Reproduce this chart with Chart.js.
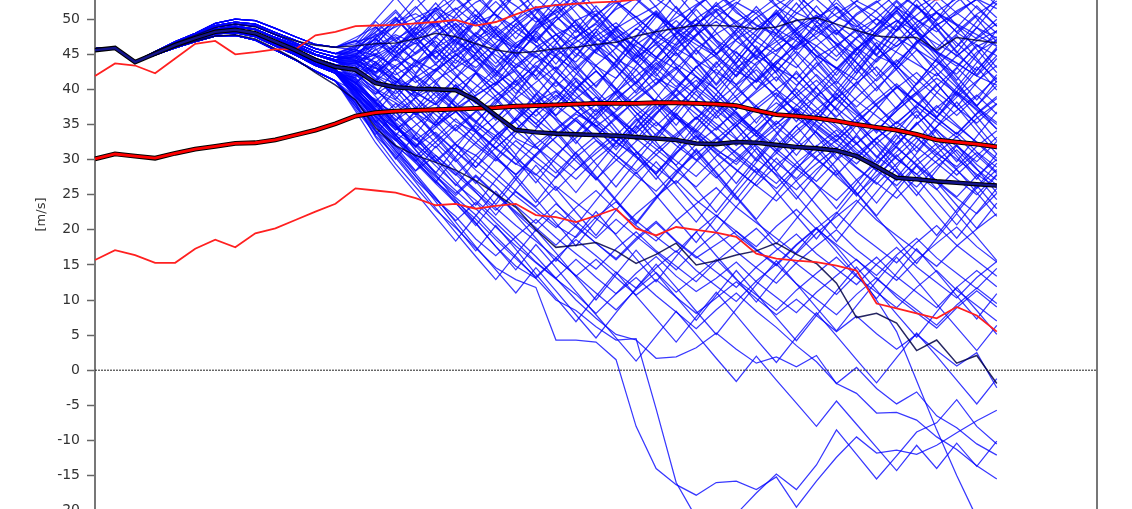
<!DOCTYPE html>
<html>
<head>
<meta charset="utf-8">
<script src="https://cdn.jsdelivr.net/npm/chart.js@4/dist/chart.umd.min.js"></script>
<style>
  html, body { margin: 0; padding: 0; background: #fff; overflow: hidden; }
  #wrap { position: absolute; left: 0; top: -40px; width: 1132px; height: 620px; }
</style>
</head>
<body>
<div id="wrap"><canvas id="chart"></canvas></div>
<script>
// forecast steps (x categories)
const steps = [0, 1, 2, 3, 4, 5, 6, 7, 8, 9, 10, 11, 12, 13, 14, 15, 16, 17, 18, 19, 20,
  21, 22, 23, 24, 25, 26, 27, 28, 29, 30, 31, 32, 33, 34, 35, 36, 37, 38, 39, 40,
  41, 42, 43, 44, 45, 46, 47, 48, 49, 50];

// common initial state of all members
const start = [45.8, 45.9, 43.9];

// ensemble members, values from step 3 on
const members = [
  [45.4,46.8,48.0,49.4,50.0,49.8,48.7,47.5,46.4,46.0, 46.8,47.5,48.9,50.2,51.6,50.1,52.4,53.8,51.9,49.6, 51.2,53.5,54.8,52.6,50.3,51.9,54.2,52.7,50.1,48.6, 50.9,53.1,55.0,52.8,50.4,48.9,51.3,53.6,51.8,49.2, 50.7,52.9,51.5],
  [45.3,46.7,47.9,49.1,49.6,49.3,48.1,47.0,45.8,45.1, 45.4,46.2,47.8,46.5,48.3,49.9,47.6,45.8,48.9,51.3, 52.1,49.4,47.2,46.1,48.7,46.9,44.8,47.6,50.3,52.4, 50.8,47.9,45.6,47.4,49.9,52.6,51.1,48.3,50.6,52.9, 54.0,51.6,49.0],
  [45.2,46.5,47.6,48.6,49.0,48.6,47.4,46.3,45.0,44.2, 44.1,44.9,46.4,48.1,45.9,43.7,46.8,48.6,46.2,44.5, 47.1,49.8,51.2,48.7,46.9,44.6,47.8,50.1,52.0,49.5, 46.8,44.9,43.1,46.2,48.5,46.0,43.9,46.7,49.6,51.0, 48.1,46.3,44.8],
  [45.2,46.4,47.5,48.5,48.9,48.5,47.3,46.0,44.9,44.0, 43.6,45.1,42.9,45.3,47.5,45.0,43.1,45.6,48.2,50.3, 47.9,45.7,48.8,51.4,53.0,50.6,48.7,46.9,45.1,48.0, 50.2,52.1,53.7,50.9,49.2,47.1,44.8,43.5,46.8,49.1, 51.2,52.8,53.9],
  [45.3,46.7,47.9,49.1,49.6,49.3,48.1,47.0,45.8,45.1, 46.1,47.7,49.6,50.8,48.9,51.4,53.2,50.6,48.8,46.7, 49.8,52.0,53.6,55.1,52.8,50.4,48.6,51.9,53.8,51.6, 49.2,47.9,50.8,53.1,54.6,52.0,50.1,48.4,51.6,53.3, 50.9,48.8,47.3],
  [45.1,46.3,47.3,48.3,48.6,48.1,46.9,45.7,44.4,43.5, 42.9,41.2,43.4,45.0,46.9,44.2,42.5,40.6,43.5,45.4, 47.8,49.2,46.4,44.3,42.8,45.9,48.1,49.9,47.0,45.2, 43.4,46.3,48.4,50.2,51.8,49.1,47.0,45.3,43.6,41.9, 44.8,46.9,48.3],
  [45.2,46.5,47.6,48.6,49.0,48.6,47.4,46.3,45.0,44.2, 45.1,46.6,44.8,43.2,45.9,47.6,49.5,50.7,48.1,46.3, 44.6,42.8,45.6,47.3,49.2,51.0,48.2,46.4,44.7,42.6, 41.1,44.0,46.2,47.9,49.8,51.9,49.2,51.6,53.7,51.0, 49.3,47.8,46.1],
  [45.4,46.8,48.0,49.4,50.0,49.8,48.7,47.5,46.4,46.0, 47.4,48.9,46.8,49.6,51.2,53.1,50.5,48.6,51.4,53.5, 55.0,52.3,50.4,53.2,55.3,52.9,51.0,49.1,52.0,54.1, 55.6,52.8,50.9,49.6,47.8,50.6,52.4,54.3,51.7,49.8, 52.5,54.4,55.5],
  [45.2,46.6,47.8,48.9,49.3,49.0,47.8,46.6,45.4,44.6, 44.2,42.3,44.9,46.6,43.8,45.5,48.1,46.0,43.6,41.9, 44.8,46.7,48.6,45.9,43.8,41.6,40.1,43.2,45.0,47.1, 48.9,50.8,47.9,46.2,44.1,47.3,49.0,51.2,48.2,46.5, 44.9,42.7,45.8],
  [45.0,46.1,47.0,47.9,48.1,47.5,46.2,44.9,43.4,42.3, 41.7,43.5,41.0,43.6,45.2,47.1,44.5,42.7,40.6,43.8, 45.6,47.5,49.3,46.8,44.9,42.8,45.9,47.8,49.7,46.9, 44.8,43.1,41.5,44.6,46.3,48.4,50.1,47.4,45.7,43.9, 42.2,45.3,47.0],
  [45.1,46.3,47.3,48.3,48.6,48.1,46.9,45.7,44.4,43.5, 43.7,45.6,47.2,48.8,46.1,48.9,50.6,47.8,46.0,49.1, 50.9,52.7,49.9,47.6,46.2,44.3,47.4,49.3,51.2,52.9, 54.5,51.8,50.0,48.3,46.6,44.9,48.0,49.8,47.1,45.4, 43.8,41.9,40.6],
  [45.3,46.7,47.9,49.1,49.6,49.3,48.1,47.0,45.8,45.1, 45.7,43.8,46.3,47.9,49.6,46.8,45.1,47.9,49.9,51.8, 48.9,47.1,45.2,43.5,46.4,48.3,50.2,52.1,53.8,50.9, 49.1,47.6,45.8,48.9,50.8,52.6,54.4,51.6,49.9,48.2, 51.0,52.8,50.2],
  [45.0,46.2,47.1,48.0,48.2,47.6,46.4,45.1,43.6,42.6, 41.9,43.8,41.6,40.2,42.9,44.8,46.5,43.7,46.6,48.3, 45.6,43.9,46.9,48.7,50.4,47.6,45.8,44.2,42.4,40.7, 43.8,45.6,47.5,44.8,43.1,41.3,44.4,46.2,48.1,45.3, 43.7,41.9,44.8],
  [45.2,46.5,47.6,48.6,49.0,48.6,47.4,46.3,45.0,44.2, 44.4,46.0,47.5,45.1,47.6,49.4,46.7,44.9,43.1,46.0, 47.8,45.1,43.3,41.6,44.6,46.4,43.6,41.8,40.1,43.1, 44.9,46.8,48.7,50.6,47.9,50.8,52.6,49.9,48.2,51.1, 52.9,54.6,52.0],
  [45.2,46.6,47.8,48.9,49.3,49.0,47.8,46.6,45.4,44.6, 45.9,47.1,45.3,47.8,49.9,51.6,49.3,47.2,45.9,48.6, 50.3,48.1,50.7,52.6,50.2,48.0,46.3,49.2,51.5,49.7, 47.6,45.4,47.9,50.1,52.3,49.8,47.9,46.1,48.7,50.9, 49.1,47.2,49.4],
  [45.2,46.4,47.5,48.5,48.9,48.5,47.3,46.0,44.9,44.0, 43.0,44.5,46.2,44.1,42.6,44.9,47.3,49.0,46.5,44.7, 42.9,45.7,47.6,49.5,46.8,44.6,42.9,45.8,47.9,49.6, 51.3,48.6,46.9,44.8,43.0,45.9,47.7,49.8,47.0,45.2, 43.3,46.1,47.5],
  [45.1,46.3,47.3,48.3,48.6,48.1,46.9,45.7,44.4,43.5, 41.6,39.7,38.1,36.4,38.0,35.4,33.9,36.2,33.0,31.6, 34.2,36.5,34.9,32.4,30.7,33.7,36.0,34.0,31.3,29.7, 32.6,35.1,37.3,35.0,32.8,30.3,33.1,35.4,33.1,30.8, 29.0,31.9,34.1],
  [45.0,46.1,47.0,47.9,48.1,47.5,46.2,44.9,43.4,42.3, 40.5,38.1,36.7,38.8,40.4,37.5,35.2,33.4,35.5,38.2, 39.8,37.0,34.7,36.9,39.2,41.5,38.8,36.5,34.2,37.2, 39.6,41.8,38.9,36.7,34.5,32.2,35.2,37.5,39.6,36.8, 34.7,32.5,30.2],
  [45.2,46.4,47.5,48.5,48.9,48.5,47.3,46.0,44.9,44.0, 43.3,41.9,40.0,41.9,39.1,36.9,39.2,41.0,38.0,35.8, 33.5,35.9,37.8,39.7,36.7,34.4,32.0,29.9,32.9,35.3, 37.6,34.7,32.3,30.0,27.8,30.8,33.1,30.2,27.9,25.7, 28.7,31.0,28.2],
  [44.9,45.9,46.8,47.6,47.7,47.0,45.6,44.2,42.6,41.2, 38.9,36.5,34.6,32.8,34.9,36.8,33.9,31.5,29.3,32.2, 34.4,36.7,38.9,36.0,33.7,31.5,29.2,32.2,34.5,36.8, 33.8,31.5,29.1,26.9,29.9,32.3,34.6,31.7,29.3,27.0, 24.7,27.7,30.0],
  [45.0,46.2,47.1,48.0,48.2,47.6,46.4,45.1,43.6,42.6, 42.1,40.1,38.5,36.6,34.9,37.3,39.1,40.9,42.7,39.9, 37.7,35.5,33.3,36.1,38.4,40.7,42.9,40.0,37.8,35.6, 33.4,31.2,34.1,36.4,38.7,40.9,43.2,40.4,38.2,36.0, 38.9,41.2,43.4],
  [45.2,46.5,47.6,48.6,49.0,48.6,47.4,46.3,45.0,44.2, 43.9,42.0,40.8,39.0,41.3,43.1,44.9,42.2,40.0,37.9, 35.8,33.7,36.5,38.7,40.9,38.1,35.9,33.7,31.5,29.3, 32.2,34.5,36.8,39.0,41.2,38.4,36.2,34.0,31.8,34.7, 37.0,39.2,36.5],
  [45.1,46.2,47.2,48.1,48.3,47.8,46.5,45.3,43.9,42.8, 40.8,37.9,35.6,37.5,34.8,32.1,30.6,33.4,35.9,33.2, 30.9,28.5,31.4,33.8,31.2,28.9,26.6,29.7,32.3,34.9, 32.0,29.6,27.3,30.4,32.8,35.1,32.4,30.1,27.9,30.8, 33.3,30.6,28.0],
  [45.2,46.6,47.8,48.9,49.3,49.0,47.8,46.6,45.4,44.6, 44.1,43.0,41.2,39.5,37.8,40.2,42.4,39.8,37.5,35.1, 37.9,40.3,42.6,40.1,37.7,35.4,33.0,35.9,38.2,40.6, 42.8,40.0,37.8,35.5,33.2,36.1,38.5,40.8,38.1,35.9, 33.6,36.5,38.7],
  [45.0,46.1,47.0,47.9,48.1,47.5,46.2,44.9,43.4,42.3, 39.9,36.2,33.8,31.9,34.6,36.9,34.1,31.7,29.4,27.8, 30.7,33.1,35.4,32.6,30.3,28.0,30.9,33.3,31.0,28.6, 26.3,29.2,31.6,34.0,31.1,28.8,26.5,29.4,31.8,29.5, 27.2,25.0,27.9],
  [45.1,46.3,47.3,48.3,48.6,48.1,46.9,45.7,44.4,43.5, 42.5,41.2,39.4,41.7,43.6,41.0,38.7,36.5,34.3,36.9, 39.2,37.0,34.8,32.6,35.5,37.8,40.1,37.3,35.1,32.9, 35.8,38.1,36.0,33.8,31.6,29.4,32.3,34.6,36.9,34.1, 31.9,29.7,32.6],
  [44.9,45.9,46.8,47.6,47.7,47.0,45.6,44.2,42.6,41.2, 38.2,35.0,32.7,34.9,37.1,34.3,32.0,29.8,32.7,30.4, 28.1,31.0,33.4,35.8,33.0,30.7,28.4,26.1,29.0,31.4, 33.8,31.0,28.7,26.4,24.2,27.1,29.5,31.9,29.1,26.8, 24.5,22.3,25.2],
  [45.0,46.2,47.1,48.0,48.2,47.6,46.4,45.1,43.6,42.6, 41.4,39.3,41.2,38.8,36.4,34.1,36.8,39.1,41.3,38.5, 36.3,38.7,41.0,43.3,40.5,38.3,36.1,33.9,36.8,39.1, 41.4,39.2,37.0,34.8,32.6,35.5,37.8,40.2,42.4,39.6, 37.4,35.2,37.9],
  [45.1,46.2,47.2,48.1,48.3,47.8,46.5,45.3,43.9,42.8, 40.1,38.6,36.2,33.9,31.7,34.5,36.9,34.2,31.9,29.6, 27.4,30.3,32.7,30.0,27.7,25.5,28.4,30.8,33.1,30.3, 28.1,25.9,28.8,31.2,33.5,30.7,28.5,26.3,29.2,31.6, 33.9,31.1,28.9],
  [45.2,46.4,47.5,48.5,48.9,48.5,47.3,46.0,44.9,44.0, 43.6,42.5,44.3,42.0,39.8,37.6,35.4,38.2,40.5,42.8, 40.0,37.8,35.6,33.4,36.3,38.6,36.4,34.2,32.0,34.9, 37.2,39.5,36.7,34.5,32.3,30.1,33.0,35.3,37.6,35.4, 33.2,35.9,38.0],
  [44.9,45.9,46.8,47.6,47.7,47.0,45.6,44.2,42.6,41.2, 37.6,34.1,31.9,29.8,32.5,35.0,32.4,30.1,27.9,30.8, 33.2,35.6,32.8,30.6,28.4,31.3,33.7,36.0,33.2,31.0, 28.8,26.6,29.5,31.9,34.2,31.4,29.2,27.0,29.9,32.3, 30.1,27.9,26.0],
  [45.2,46.6,47.8,48.9,49.3,49.0,47.8,46.6,45.4,44.6, 44.8,43.9,42.1,43.8,45.5,43.0,40.7,38.5,41.1,43.4, 41.2,39.0,36.8,39.6,41.9,44.2,41.4,39.2,37.0,34.8, 37.7,40.0,42.3,39.5,37.3,35.1,38.0,40.3,38.1,35.9, 33.7,36.6,39.0],
  [45.3,46.7,47.9,49.1,49.6,49.3,48.1,47.0,45.8,45.1, 44.7,43.1,41.5,39.6,37.9,40.6,38.1,35.9,38.7,41.0, 43.2,40.4,38.2,36.0,33.8,36.7,39.0,41.3,38.5,36.3, 34.1,31.9,34.8,37.1,39.4,36.6,34.4,32.2,35.1,37.4, 39.7,37.5,35.3],
  [45.1,46.2,47.2,48.1,48.3,47.8,46.5,45.3,43.9,42.8, 40.4,37.2,34.5,32.1,29.8,32.4,34.9,32.6,30.2,27.9, 25.6,28.5,30.9,33.2,30.5,28.2,31.1,33.5,30.8,28.5, 26.3,24.1,27.0,29.4,31.7,28.9,26.7,24.5,27.4,29.8, 32.1,29.3,27.1],
  [45.4,46.8,48.0,49.4,50.0,49.8,48.7,47.5,46.4,46.0, 45.6,44.8,43.3,41.0,42.9,40.3,38.0,40.7,43.0,45.2, 42.5,40.2,38.0,35.8,38.6,40.9,43.2,40.4,38.2,36.0, 33.8,36.7,39.0,41.3,38.5,36.3,34.1,37.0,39.3,41.6, 39.4,37.2,35.0],
  [45.0,46.1,47.0,47.9,48.1,47.5,46.2,44.9,43.4,42.3, 39.5,36.8,34.3,36.2,33.6,31.2,28.9,31.7,34.1,31.8, 29.5,27.2,30.1,32.5,34.8,32.0,29.8,27.6,30.5,32.9, 30.1,27.9,25.7,28.6,31.0,33.3,30.5,28.3,26.1,29.0, 31.4,28.6,26.4],
  [44.9,45.9,46.8,47.6,47.7,47.0,45.6,44.2,42.6,41.2, 38.5,34.8,31.2,28.4,30.6,27.9,25.3,22.8,25.4,23.1, 20.6,18.9,21.8,24.0,21.3,19.0,16.8,19.7,22.1,19.3, 17.1,14.9,17.8,20.2,22.5,19.7,17.5,15.3,18.2,20.6, 17.8,15.6,13.4],
  [45.1,46.2,47.2,48.1,48.3,47.8,46.5,45.3,43.9,42.8, 39.7,36.1,33.6,30.2,27.5,24.9,27.6,25.0,22.4,19.8, 22.7,20.4,18.1,15.9,18.8,21.2,18.4,16.2,14.0,11.8, 14.7,17.1,19.4,16.6,14.4,12.2,15.1,17.5,14.7,12.5, 10.3,13.2,15.5],
  [45.0,46.2,47.1,48.0,48.2,47.6,46.4,45.1,43.6,42.6, 41.2,38.0,35.3,32.9,30.1,27.8,30.6,28.1,25.5,23.3, 26.2,23.9,21.6,19.4,22.3,24.7,27.0,24.2,22.0,19.8, 17.6,20.5,22.9,20.1,17.9,15.7,13.5,16.4,18.8,16.0, 13.8,11.6,14.5],
  [44.9,45.9,46.8,47.6,47.7,47.0,45.6,44.2,42.6,41.2, 37.9,33.4,30.6,27.1,24.3,21.9,18.7,16.3,19.0,21.5, 18.9,16.6,14.4,17.3,19.7,17.0,14.8,12.6,15.5,17.9, 20.2,17.4,15.2,13.0,10.8,13.7,16.1,13.3,11.1,8.9, 11.8,14.2,11.9],
  [45.0,46.1,47.0,47.9,48.1,47.5,46.2,44.9,43.4,42.3, 40.2,37.3,34.9,32.3,29.6,32.2,29.7,27.3,24.8,22.6, 20.3,23.2,25.6,22.8,20.6,18.4,21.3,23.7,26.0,23.2, 21.0,18.8,16.6,19.5,21.9,24.2,21.4,19.2,17.0,14.8, 17.7,20.1,22.3],
  [45.1,46.2,47.2,48.1,48.3,47.8,46.5,45.3,43.9,42.8, 39.3,35.5,32.8,29.6,26.9,24.1,21.5,18.6,15.9,13.3, 16.0,18.6,16.3,13.9,11.7,14.6,17.0,14.2,12.0,9.8, 12.7,15.1,12.3,10.1,7.9,10.8,13.2,10.4,8.2,6.0, 8.9,11.3,9.0],
  [44.9,45.9,46.8,47.6,47.7,47.0,45.6,44.2,42.6,41.2, 38.0,34.2,30.9,27.6,24.5,21.3,23.9,21.0,18.3,15.4, 13.1,15.8,13.2,10.9,13.8,16.2,13.4,11.2,13.1,15.4, 12.6,10.4,8.2,11.1,13.5,15.8,13.0,10.8,8.6,6.4, 9.3,11.7,9.5],
  [45.0,46.2,47.1,48.0,48.2,47.6,46.4,45.1,43.6,42.6, 40.9,37.6,35.1,31.8,33.9,31.2,28.5,26.2,23.4,20.9, 23.7,21.2,18.8,21.5,19.1,16.8,14.3,17.2,19.6,16.9, 14.6,12.4,15.3,17.7,20.0,17.2,15.0,12.8,15.7,18.1, 20.4,17.6,15.4],
  [45.0,46.1,47.0,47.9,48.1,47.5,46.2,44.9,43.4,42.3, 39.4,35.9,32.1,29.5,26.6,23.8,20.9,17.6,14.8,13.1, 15.9,13.5,11.0,8.6,11.5,13.9,11.1,13.4,15.8,12.9, 10.7,8.5,11.4,13.8,16.1,13.3,11.1,8.9,11.8,14.2, 11.4,9.2,7.0],
  [44.9,45.9,46.8,47.6,47.7,47.0,45.6,44.2,42.6,41.2, 38.0,33.2,29.4,26.1,22.8,20.3,17.4,14.6,12.9,11.8, 4.3,4.3,4.0,1.5,-8.0,-14.0,-16.3,-17.8,-16.0,-15.8, -17.0,-15.2,-19.5,-15.8,-12.4,-9.5,-11.8,-11.4,-12.0,-10.7, -8.9,-7.2,-5.7],
  [45.1,46.2,47.2,48.1,48.3,47.8,46.5,45.3,43.9,42.8, 39.0,35.6,32.8,29.9,26.8,24.6,22.1,19.0,16.2,13.1, 10.0,8.5,6.2,4.3,4.5,-5.5,-16.0,-21.0,-22.0,-20.5, -17.5,-14.8,-17.0,-13.5,-8.5,-12.0,-15.5,-12.2,-8.8,-7.5, -4.2,-8.0,-10.5],
  [45.0,46.1,47.0,47.9,48.1,47.5,46.2,44.9,43.4,42.3, 40.0,36.4,33.0,30.5,27.7,25.2,27.8,25.1,22.6,20.3, 17.8,20.6,18.1,15.7,18.5,21.0,18.3,16.0,17.9,19.8, 17.2,15.1,17.9,20.3,17.6,14.2,10.0,5.5,-1.5,-8.5, -15.0,-21.0,-26.0],
  [44.9,45.9,46.8,47.6,47.7,47.0,45.6,44.2,42.6,41.2, 39.8,36.9,33.5,30.8,28.2,25.6,23.0,20.4,17.7,15.3, 13.0,10.8,8.1,10.9,13.2,10.6,8.3,5.9,8.6,11.0, 8.4,6.1,3.5,1.2,-1.9,-3.3,-6.1,-6.0,-7.1,-9.5, -11.3,-13.6,-15.5],
  [45.1,46.2,47.2,48.1,48.3,47.8,46.5,45.3,43.9,42.8, 40.5,37.8,34.6,31.9,29.1,26.5,24.2,21.6,18.9,16.2, 13.1,10.0,7.4,5.1,4.3,1.7,1.9,3.2,5.3,3.0, 1.0,1.9,0.5,2.1,-1.9,0.4,-2.6,-4.8,-3.1,-6.5, -8.2,-10.5,-12.1],
  [45.0,46.2,47.1,48.0,48.2,47.6,46.4,45.1,43.6,42.6, 41.0,38.2,35.8,33.1,30.6,28.2,25.7,23.1,20.6,18.4, 16.0,13.4,15.8,13.2,10.7,12.9,10.4,8.1,10.3,12.6, 10.2,7.9,10.1,7.8,5.5,7.7,5.2,3.0,5.1,2.8, 0.6,2.5,-2.5],
  [45.2,46.4,47.5,48.5,48.9,48.5,47.3,46.0,44.9,44.0, 43.1,46.5,49.2,51.8,48.6,45.3,47.9,51.2,53.4,50.1, 46.8,43.2,40.5,44.1,47.6,50.8,47.3,43.9,40.6,43.8, 47.1,50.4,53.2,49.8,46.3,42.9,39.8,43.4,46.9,44.1, 40.7,37.6,41.2],
  [45.0,46.1,47.0,47.9,48.1,47.5,46.2,44.9,43.4,42.3, 40.1,37.5,40.8,44.2,41.1,37.6,34.2,37.9,41.5,44.8, 41.3,38.0,34.6,31.4,35.0,38.7,42.2,45.6,42.1,38.8, 35.2,38.9,42.6,39.1,35.8,32.4,29.1,32.9,36.4,33.0, 29.7,33.3,36.8],
  [45.1,46.3,47.3,48.3,48.6,48.1,46.9,45.7,44.4,43.5, 42.6,39.4,42.8,46.0,49.3,46.1,42.6,45.9,49.4,46.2, 42.8,39.5,36.3,39.9,43.4,46.7,43.3,40.0,43.6,47.1, 50.3,46.9,43.6,40.3,37.0,40.6,44.1,47.5,44.2,40.8, 37.5,41.0,44.4],
  [45.2,46.5,47.6,48.6,49.0,48.6,47.4,46.3,45.0,44.2, 44.6,47.9,45.1,48.5,51.6,48.3,45.0,41.8,45.3,48.8, 52.0,48.6,45.2,48.7,52.1,54.9,51.6,48.3,44.9,48.4, 51.8,48.5,45.1,41.9,38.6,42.2,45.7,49.1,45.8,42.4, 39.1,42.7,46.0],
  [44.9,45.9,46.8,47.6,47.7,47.0,45.6,44.2,42.6,41.2, 37.2,33.6,36.8,33.1,29.7,26.3,29.9,33.4,30.0,26.7, 30.3,33.8,37.2,33.9,30.5,27.2,30.8,34.3,37.7,34.4, 31.0,27.7,24.4,28.0,31.5,34.9,31.6,28.2,24.9,28.5, 32.0,28.7,25.3],
  [45.0,46.2,47.1,48.0,48.2,47.6,46.4,45.1,43.6,42.6, 41.6,38.1,35.0,31.8,35.4,39.0,42.3,38.9,35.6,39.2, 42.6,46.0,42.7,39.3,36.0,32.7,36.3,39.8,36.4,33.1, 29.8,33.4,36.9,40.3,37.0,33.6,30.3,33.9,37.4,40.8, 37.5,34.1,30.8],
  [45.1,46.2,47.2,48.1,48.3,47.8,46.5,45.3,43.9,42.8, 39.9,36.8,33.2,29.9,26.8,30.4,33.9,30.5,27.2,23.9, 27.5,31.0,27.6,24.3,21.0,24.6,28.1,31.5,28.2,24.8, 21.5,25.1,28.6,32.0,28.7,25.3,22.0,25.6,29.1,25.8, 22.4,26.0,29.5],
  [45.2,46.6,47.8,48.9,49.3,49.0,47.8,46.6,45.4,44.6, 45.5,48.6,51.3,48.0,51.5,54.6,51.3,48.0,44.6,48.1, 51.5,54.7,51.4,48.0,44.7,48.3,51.8,48.5,45.1,41.8, 45.4,48.9,52.3,49.0,45.6,42.3,45.9,49.4,52.8,49.5, 46.1,49.7,53.1],
  [45.3,46.7,47.9,49.1,49.6,49.3,48.1,47.0,45.8,45.1, 46.3,49.7,47.0,43.8,47.3,50.6,53.8,50.5,47.2,50.8, 54.1,50.9,47.5,44.2,40.9,44.5,48.0,51.4,48.1,44.7, 41.4,45.0,48.5,51.9,48.6,45.2,41.9,45.5,49.0,52.4, 49.1,45.7,42.4],
  [45.1,46.3,47.3,48.3,48.6,48.1,46.9,45.7,44.4,43.5, 41.9,44.8,41.6,38.3,35.2,38.8,42.3,45.6,42.3,38.9, 35.6,32.3,35.9,39.4,42.8,39.5,36.1,32.8,36.4,39.9, 43.3,40.0,36.6,33.3,30.0,33.6,37.1,40.5,37.2,33.8, 30.5,27.2,30.8],
  [45.0,46.1,47.0,47.9,48.1,47.5,46.2,44.9,43.4,42.3, 39.2,35.4,31.9,28.4,31.9,28.6,25.4,22.1,25.7,29.2, 25.9,22.5,19.2,22.8,26.3,29.7,26.4,23.0,19.7,23.3, 26.8,30.2,26.9,23.5,20.2,23.8,27.3,30.7,27.4,24.0, 20.7,24.3,27.8],
  [45.4,46.8,48.0,49.4,50.0,49.8,48.7,47.5,46.4,46.0, 47.0,44.9,48.3,51.5,54.2,50.9,47.6,51.1,54.6,51.3, 47.9,44.6,48.2,51.7,55.0,51.7,48.3,45.0,48.6,52.1, 55.3,52.0,48.6,45.3,42.0,45.6,49.1,52.5,49.2,45.8, 48.8,51.9,49.0],
  [45.0,46.2,47.1,48.0,48.2,47.6,46.4,45.1,43.6,42.6, 40.4,37.0,33.5,30.4,27.1,23.8,20.6,24.2,27.7,24.4, 21.0,17.7,21.3,24.8,28.2,24.9,21.5,18.2,21.8,25.3, 28.7,25.4,22.0,18.7,22.3,25.8,29.2,25.9,22.5,19.2, 22.8,26.3,23.0],
  [45.2,46.5,47.6,48.6,49.0,48.6,47.4,46.3,45.0,44.2, 44.0,41.3,44.7,41.4,38.1,41.7,45.2,48.5,45.2,41.8, 38.5,42.1,45.6,49.0,45.7,42.3,39.0,35.7,39.3,42.8, 46.2,42.9,39.5,36.2,39.8,43.3,46.7,43.4,40.0,36.7, 40.3,43.8,47.2],
  [45.2,46.4,47.5,48.5,48.9,48.5,47.3,46.0,44.9,44.0, 43.4,40.2,36.9,33.6,37.2,40.7,37.3,34.0,30.7,34.3, 37.8,41.2,37.9,34.5,31.2,27.9,31.5,35.0,38.4,35.1, 31.7,28.4,32.0,35.5,38.9,35.6,32.2,28.9,32.5,36.0, 39.4,36.1,32.7],
  [44.9,45.9,46.8,47.6,47.7,47.0,45.6,44.2,42.6,41.2, 36.9,32.4,28.7,25.3,21.8,18.4,22.0,25.5,22.1,18.8, 15.5,19.1,22.6,19.2,15.9,12.6,16.2,19.7,16.3,13.0, 9.7,13.3,16.8,20.2,16.9,13.5,10.2,13.8,17.3,14.0, 10.6,7.3,10.9],
  [45.1,46.2,47.2,48.1,48.3,47.8,46.5,45.3,43.9,42.8, 40.7,43.9,40.6,37.2,40.8,44.3,47.7,44.4,41.0,37.7, 41.3,44.8,48.2,44.9,41.5,38.2,34.9,38.5,42.0,45.4, 42.1,38.7,35.4,39.0,42.5,45.9,42.6,39.2,35.9,39.5, 43.0,46.4,43.1],
  [45.2,46.6,47.8,48.9,49.3,49.0,47.8,46.6,45.4,44.6, 44.9,46.3,49.8,53.1,49.8,46.4,49.9,53.4,50.1,46.7, 50.3,53.8,50.5,47.1,43.8,47.4,50.9,54.3,51.0,47.6, 44.3,47.9,51.4,54.8,51.5,48.1,44.8,48.4,51.9,48.6, 45.2,48.8,52.3],
  [45.0,46.1,47.0,47.9,48.1,47.5,46.2,44.9,43.4,42.3, 38.7,34.1,30.3,26.8,23.1,19.6,16.2,12.9,16.5,20.0, 16.7,13.3,10.0,13.6,17.1,13.8,10.4,7.1,10.7,14.2, 10.9,7.5,4.2,7.8,11.3,14.7,11.4,8.0,4.7,8.3, 11.8,8.5,5.1],
  [45.1,46.3,47.3,48.3,48.6,48.1,46.9,45.7,44.4,43.5, 42.2,39.0,35.5,38.9,35.6,32.2,28.9,32.5,36.0,39.4, 36.1,32.7,29.4,26.1,29.7,33.2,36.6,33.3,29.9,26.6, 30.2,33.7,37.1,33.8,30.4,27.1,23.8,27.4,30.9,34.3, 31.0,27.6,24.3],
  [45.3,46.7,47.9,49.1,49.6,49.3,48.1,47.0,45.8,45.1, 46.0,48.9,45.6,42.3,45.9,49.4,46.1,42.7,39.4,43.0, 46.5,49.9,46.6,43.2,46.8,50.3,53.7,50.4,47.0,43.7, 47.3,50.8,47.5,44.1,40.8,44.4,47.9,51.3,48.0,44.6, 41.3,44.9,48.4],
  [45.0,46.2,47.1,48.0,48.2,47.6,46.4,45.1,43.6,42.6, 40.0,36.6,39.9,36.5,33.2,29.9,26.6,30.2,33.7,37.1, 33.8,30.4,27.1,30.7,34.2,37.6,34.3,30.9,27.6,24.3, 27.9,31.4,34.8,31.5,28.1,24.8,28.4,31.9,35.3,32.0, 28.6,25.3,21.9],
  [45.2,46.5,47.6,48.6,49.0,48.6,47.4,46.3,45.0,44.2, 45.5,48.2,51.0,47.7,44.3,47.9,51.4,48.1,44.7,41.4, 45.0,48.5,51.9,48.6,45.2,41.9,45.5,49.0,52.4,49.1, 45.7,42.4,46.0,49.5,52.9,49.6,46.2,42.9,46.5,50.0, 53.4,50.1,46.7],
  [45.1,46.2,47.2,48.1,48.3,47.8,46.5,45.3,43.9,42.8, 39.6,35.3,31.6,28.0,24.6,21.1,17.6,14.3,11.0,14.6, 11.3,7.9,4.6,8.2,11.7,15.1,11.8,8.4,5.1,8.7, 12.2,15.6,12.3,8.9,5.6,9.2,12.7,16.1,12.8,9.4, 6.1,2.8,6.4],
  [45.2,46.4,47.5,48.5,48.9,48.5,47.3,46.0,44.9,44.0, 42.7,45.8,42.5,39.1,42.7,46.2,49.6,46.3,42.9,39.6, 36.3,39.9,43.4,40.1,36.7,33.4,37.0,40.5,43.9,40.6, 37.2,33.9,30.6,34.2,37.7,41.1,37.8,34.4,31.1,34.7, 38.2,34.9,31.5],
  [44.9,45.9,46.8,47.6,47.7,47.0,45.6,44.2,42.6,41.2, 37.5,33.9,30.1,33.6,30.2,26.9,23.5,27.1,30.6,27.3, 23.9,20.6,24.2,27.7,31.1,27.8,24.4,21.1,24.7,28.2, 31.6,28.3,24.9,21.6,18.3,21.9,25.4,28.8,25.5,22.1, 18.8,22.4,25.9],
  [45.4,46.8,48.0,49.4,50.0,49.8,48.7,47.5,46.4,46.0, 46.9,49.9,53.1,49.8,46.4,43.1,46.7,50.2,53.6,50.3, 46.9,43.6,40.3,43.9,47.4,50.8,47.5,44.1,40.8,44.4, 47.9,51.3,48.0,44.6,41.3,44.9,48.4,51.8,48.5,45.1, 41.8,38.5,42.1],
  [45.1,46.3,47.3,48.3,48.6,48.1,46.9,45.7,44.4,43.5, 41.3,38.2,34.8,31.4,28.1,31.7,35.2,38.6,35.3,31.9, 28.6,25.3,28.9,32.4,35.8,32.5,29.1,25.8,22.5,26.1, 29.6,33.0,29.7,26.3,23.0,26.6,30.1,33.5,30.2,26.8, 23.5,20.2,23.8],
  [45.3,46.7,47.9,49.1,49.6,49.3,48.1,47.0,45.8,45.1, 45.2,42.4,45.8,49.1,52.3,49.0,45.6,42.3,45.9,49.4, 52.8,49.5,46.1,42.8,39.5,43.1,46.6,50.0,46.7,43.3, 40.0,43.6,47.1,50.5,47.2,43.8,40.5,37.2,40.8,44.3, 47.7,44.4,41.0],
  [45.0,46.1,47.0,47.9,48.1,47.5,46.2,44.9,43.4,42.3, 38.9,35.0,31.3,27.6,24.0,20.5,17.0,20.6,17.2,13.7, 10.3,6.9,10.5,14.0,10.6,7.3,4.0,7.6,11.1,7.8, 4.4,1.1,4.7,8.2,4.9,1.5,-1.8,1.8,5.3,2.0, -1.4,-4.8,-1.2],
  [45.2,46.6,47.8,48.9,49.3,49.0,47.8,46.6,45.4,44.6, 44.3,47.4,44.1,47.6,50.9,47.6,44.2,40.9,44.5,48.0, 44.7,41.3,38.0,41.6,45.1,48.5,45.2,41.8,38.5,42.1, 45.6,42.3,38.9,35.6,39.2,42.7,46.1,42.8,39.4,36.1, 39.7,43.2,39.9],
  [45.1,46.2,47.2,48.1,48.3,47.8,46.5,45.3,43.9,42.8, 40.3,37.1,33.4,36.9,33.5,30.2,26.9,23.6,27.2,30.7, 34.1,30.8,27.4,24.1,20.8,24.4,27.9,31.3,28.0,24.6, 21.3,18.0,21.6,25.1,28.5,25.2,21.8,18.5,15.2,18.8, 22.3,19.0,15.6],
  [45.2,46.5,47.6,48.6,49.0,48.6,47.4,46.3,45.0,44.2, 44.7,41.9,38.6,42.1,45.6,42.2,38.9,35.6,39.2,42.7, 46.1,42.8,39.4,36.1,32.8,36.4,39.9,43.3,40.0,36.6, 33.3,36.9,40.4,43.8,40.5,37.1,33.8,37.4,40.9,44.3, 41.0,37.6,34.3],
  [45.0,46.2,47.1,48.0,48.2,47.6,46.4,45.1,43.6,42.6, 41.0,38.4,34.9,31.3,27.9,24.3,21.0,17.6,14.3,17.9, 14.6,11.2,7.9,4.6,1.3,4.9,8.4,5.1,1.7,-1.6, 2.0,-1.4,-4.7,-8.0,-4.4,-7.7,-11.0,-14.3,-10.7,-14.0, -10.4,-13.7,-10.1],
  [45.2,46.4,47.5,48.5,48.9,48.5,47.3,46.0,44.9,44.0, 43.9,46.9,50.2,46.9,43.5,46.9,50.4,53.6,50.3,46.9, 43.6,47.2,50.7,47.4,44.0,40.7,44.3,47.8,51.2,47.9, 44.5,41.2,44.8,48.3,51.7,48.4,45.0,48.6,52.1,48.8, 45.4,42.1,45.7],
  [45.4,46.8,48.0,49.4,50.0,49.8,48.7,47.5,46.4,46.0, 46.5,48.1,50.3,47.2,49.8,52.9,50.1,47.4,49.9,53.0, 50.6,47.3,49.5,52.4,49.8,46.5,48.9,51.7,54.0,51.2, 48.4,50.9,53.5,51.0,48.1,45.6,48.3,51.2,53.8,50.9, 48.2,50.7,52.6],
  [45.3,46.7,47.9,49.1,49.6,49.3,48.1,47.0,45.8,45.1, 45.0,47.2,44.6,46.9,49.5,46.8,44.1,46.6,49.3,51.5, 48.7,46.0,43.4,45.9,48.6,51.2,48.5,45.7,43.1,45.8, 48.4,51.0,48.2,45.5,42.9,45.6,48.3,50.9,48.1,45.3, 47.9,50.5,48.0],
  [45.2,46.6,47.8,48.9,49.3,49.0,47.8,46.6,45.4,44.6, 44.5,42.1,44.8,47.3,44.6,41.9,39.5,42.2,44.9,47.6, 45.0,42.3,39.8,37.1,39.9,42.6,45.2,42.5,39.9,37.2, 39.9,42.7,45.4,42.8,40.1,37.5,40.2,42.9,45.6,43.0, 40.3,37.7,40.5],
  [45.2,46.4,47.5,48.5,48.9,48.5,47.3,46.0,44.9,44.0, 42.4,40.0,37.4,39.8,42.5,45.1,42.4,39.7,37.1,34.6, 37.3,40.0,42.6,39.9,37.3,34.8,37.5,40.2,42.9,40.2, 37.6,35.0,37.7,40.4,43.0,40.3,37.6,35.1,37.8,40.5, 43.1,40.4,37.8],
  [45.1,46.3,47.3,48.3,48.6,48.1,46.9,45.7,44.4,43.5, 41.0,43.2,40.3,37.6,34.9,37.6,40.3,43.0,45.6,43.0, 40.4,43.1,45.8,48.4,45.7,43.0,40.4,43.1,45.8,48.5, 45.9,43.2,40.6,43.3,46.0,48.7,46.0,43.3,40.7,43.4, 46.1,48.8,46.2],
  [45.2,46.5,47.6,48.6,49.0,48.6,47.4,46.3,45.0,44.2, 44.8,47.4,50.0,47.3,44.6,47.2,49.9,52.5,49.8,47.1, 49.8,52.4,49.7,47.0,44.4,47.1,49.8,47.1,44.5,41.9, 44.6,47.3,50.0,47.3,44.7,47.4,50.1,52.7,50.0,47.3, 44.7,47.4,50.0],
  [45.1,46.2,47.2,48.1,48.3,47.8,46.5,45.3,43.9,42.8, 39.8,37.0,34.2,36.9,39.6,36.9,34.2,31.6,34.3,37.0, 39.7,37.0,34.4,31.8,34.5,37.2,39.9,37.2,34.6,32.0, 34.7,37.4,40.1,37.4,34.8,32.2,29.6,32.3,35.0,37.7, 35.0,32.4,29.8],
  [45.0,46.2,47.1,48.0,48.2,47.6,46.4,45.1,43.6,42.6, 40.9,38.3,40.9,43.5,40.8,38.1,35.5,32.9,35.6,38.3, 41.0,38.3,35.7,38.4,41.1,43.8,41.1,38.5,35.9,38.6, 41.3,44.0,41.3,38.7,36.1,38.8,41.5,44.2,41.5,38.9, 36.3,39.0,41.7],
  [45.0,46.1,47.0,47.9,48.1,47.5,46.2,44.9,43.4,42.3, 39.0,36.1,33.1,30.4,33.1,35.8,33.1,30.4,27.8,30.5, 33.2,35.9,33.2,30.6,28.0,30.7,33.4,36.1,33.4,30.8, 28.2,30.9,33.6,36.3,33.6,31.0,28.4,31.1,33.8,31.1, 28.5,25.9,28.6],
  [44.9,45.9,46.8,47.6,47.7,47.0,45.6,44.2,42.6,41.2, 38.4,35.3,38.0,35.2,32.4,29.7,32.4,35.1,37.8,35.1, 32.4,29.8,27.2,29.9,32.6,35.3,32.6,30.0,27.4,30.1, 32.8,35.5,32.8,30.2,27.6,25.0,27.7,30.4,33.1,30.4, 27.8,30.5,33.2],
  [45.2,46.6,47.8,48.9,49.3,49.0,47.8,46.6,45.4,44.6, 45.8,43.4,45.9,48.6,51.2,48.5,45.8,43.2,45.9,48.6, 51.3,48.6,46.0,43.4,40.8,43.5,46.2,48.9,46.2,43.6, 41.0,43.7,46.4,49.1,46.4,43.8,41.2,43.9,46.6,49.3, 46.6,44.0,41.4],
  [45.2,46.4,47.5,48.5,48.9,48.5,47.3,46.0,44.9,44.0, 43.8,41.5,39.0,36.4,38.9,41.6,44.2,41.5,38.8,36.2, 38.9,41.6,39.0,36.4,33.8,36.5,39.2,41.9,39.2,36.6, 34.0,36.7,39.4,42.1,39.4,36.8,34.2,36.9,39.6,42.3, 39.6,37.0,34.4]
];

// ensemble mean and spread lines
const ensMean = [45.6, 45.9, 43.9, 45.1, 46.3, 47.3, 48.2, 48.5, 48.0, 46.8, 45.6, 44.2, 43.2, 42.8, 40.9,
  40.3, 40.1, 40.0, 39.9, 38.5, 36.3, 34.2, 33.9, 33.7, 33.6, 33.5, 33.4, 33.2, 33.0, 32.8, 32.3,
  32.2, 32.5, 32.4, 32.1, 31.8, 31.6, 31.3, 30.5, 29.0, 27.4, 27.2, 26.9, 26.7, 26.5, 26.3];
const ensUpper = [45.8, 45.9, 43.9, 45.4, 46.6, 47.7, 48.8, 49.3, 48.9, 47.8, 46.9, 46.3, 46.0, 46.2, 46.5,
  46.6, 47.2, 48.0, 47.5, 46.5, 45.6, 45.2, 45.4, 45.8, 46.0, 46.4, 46.7, 47.6, 48.2, 48.7, 49.1,
  49.1, 49.0, 48.6, 48.9, 49.8, 50.2, 49.3, 48.4, 47.6, 47.4, 47.4, 45.6, 47.4, 47.0, 46.6];
const ensLower = [45.8, 45.9, 43.9, 44.9, 46.0, 46.9, 47.6, 47.8, 47.2, 45.8, 44.3, 42.4, 40.6, 38.5, 34.5,
  32.0, 30.6, 29.6, 28.5, 27.0, 25.1, 23.2, 20.0, 17.5, 17.8, 18.2, 17.0, 15.2, 16.5, 18.1, 15.0,
  15.6, 16.4, 17.0, 18.1, 16.5, 15.2, 12.4, 7.5, 8.1, 6.7, 2.8, 4.3, 1.0, 2.1, -1.9];

// climatology mean and band
const climMean = [30.1, 30.8, 30.5, 30.2, 30.9, 31.5, 31.9, 32.3, 32.4, 32.8, 33.5, 34.2, 35.1, 36.2, 36.7,
  36.9, 37.0, 37.1, 37.2, 37.3, 37.4, 37.6, 37.7, 37.8, 37.9, 38.0, 38.0, 38.0, 38.1, 38.1, 38.0,
  37.9, 37.7, 37.0, 36.4, 36.2, 35.9, 35.5, 35.0, 34.6, 34.2, 33.6, 32.8, 32.5, 32.2, 31.8];
const climUpper = [41.9, 43.7, 43.4, 42.3, 44.4, 46.5, 46.9, 45.0, 45.3, 45.7, 45.7, 47.7, 48.2, 49.0, 49.1,
  49.2, 49.4, 49.6, 49.9, 49.1, 49.6, 50.7, 51.7, 52.0, 52.2, 52.4, 52.5, 52.8, 53.3, 53.8, 54.0,
  54.3, 54.6, 54.4, 54.8, 55.0, 54.6, 54.2, 54.0, 53.6, 53.3, 53.0, 52.8, 53.2, 53.6, 53.9];
const climLower = [15.7, 17.1, 16.4, 15.3, 15.3, 17.3, 18.6, 17.5, 19.5, 20.2, 21.4, 22.6, 23.7, 25.9, 25.6,
  25.3, 24.5, 23.5, 23.7, 23.0, 23.4, 23.7, 22.1, 21.8, 21.1, 22.0, 23.0, 20.2, 19.2, 20.4, 20.0,
  19.6, 19.0, 16.6, 15.9, 15.6, 15.4, 14.9, 14.2, 9.5, 8.8, 8.1, 7.4, 9.0, 7.8, 5.5];

const yTicks = [-25, -20, -15, -10, -5, 0, 5, 10, 15, 20, 25, 30, 35, 40, 45, 50, 55];

const CANVAS_TOP = 40; // wrapper is shifted up by this much

function line(data, color, width, order) {
  return {
    data: data,
    borderColor: color,
    borderWidth: width,
    pointRadius: 0,
    tension: 0,
    fill: false,
    order: order,
  };
}

const datasets = [
  line(ensMean, '#14148c', 2.4, 0),
  line(ensMean, '#000000', 4.6, 1),
  line(climMean, '#ff0000', 2.8, 2),
  line(climMean, '#000000', 4.8, 3),
  line(climUpper, '#ff2020', 1.8, 4),
  line(climLower, '#ff2020', 1.8, 4),
  line(ensUpper, 'rgba(0, 0, 70, 0.85)', 1.5, 5),
  line(ensLower, 'rgba(0, 0, 70, 0.85)', 1.5, 5),
];
members.forEach((m) => {
  datasets.push(line(start.concat(m), 'rgba(0, 0, 255, 0.78)', 1.25, 10));
});

const overlay = {
  id: 'overlay',
  afterDatasetsDraw(chart) {
    const { ctx, chartArea } = chart;
    const y0 = chart.scales.y.getPixelForValue(0);
    ctx.save();
    // zero line
    ctx.strokeStyle = '#222';
    ctx.lineWidth = 1;
    ctx.setLineDash([2, 1]);
    ctx.beginPath();
    ctx.moveTo(chartArea.left, y0);
    ctx.lineTo(chartArea.right, y0);
    ctx.stroke();
    ctx.setLineDash([]);
    // right frame
    ctx.strokeStyle = '#777';
    ctx.lineWidth = 2;
    ctx.beginPath();
    ctx.moveTo(chartArea.right, chartArea.top);
    ctx.lineTo(chartArea.right, chartArea.bottom);
    ctx.stroke();
    ctx.restore();
  },
  afterDraw(chart) {
    const { ctx } = chart;
    ctx.save();
    ctx.font = '13px "DejaVu Sans"';
    ctx.fillStyle = '#333';
    ctx.textAlign = 'center';
    ctx.textBaseline = 'middle';
    ctx.translate(41.5, 214.5 + CANVAS_TOP);
    ctx.rotate(-Math.PI / 2);
    ctx.fillText('[m/s]', 0, 0);
    ctx.restore();
  },
};

new Chart(document.getElementById('chart'), {
  type: 'line',
  data: { labels: steps, datasets: datasets },
  plugins: [overlay],
  options: {
    responsive: true,
    maintainAspectRatio: false,
    animation: false,
    events: [],
    layout: { padding: { top: 24.1, bottom: 34.3, left: 0, right: 35 } },
    plugins: { legend: { display: false }, tooltip: { enabled: false } },
    scales: {
      x: { display: false },
      y: {
        min: -25,
        max: 55,
        afterBuildTicks(scale) { scale.ticks = yTicks.map((v) => ({ value: v })); },
        afterFit(scale) { scale.width = 95; },
        border: { color: '#777', width: 2 },
        grid: { drawOnChartArea: false, tickLength: 8, tickColor: '#666', tickWidth: 1.5 },
        ticks: {
          padding: 7,
          color: '#333',
          font: { family: 'DejaVu Sans', size: 14 },
        },
      },
    },
  },
});
</script>
</body>
</html>
